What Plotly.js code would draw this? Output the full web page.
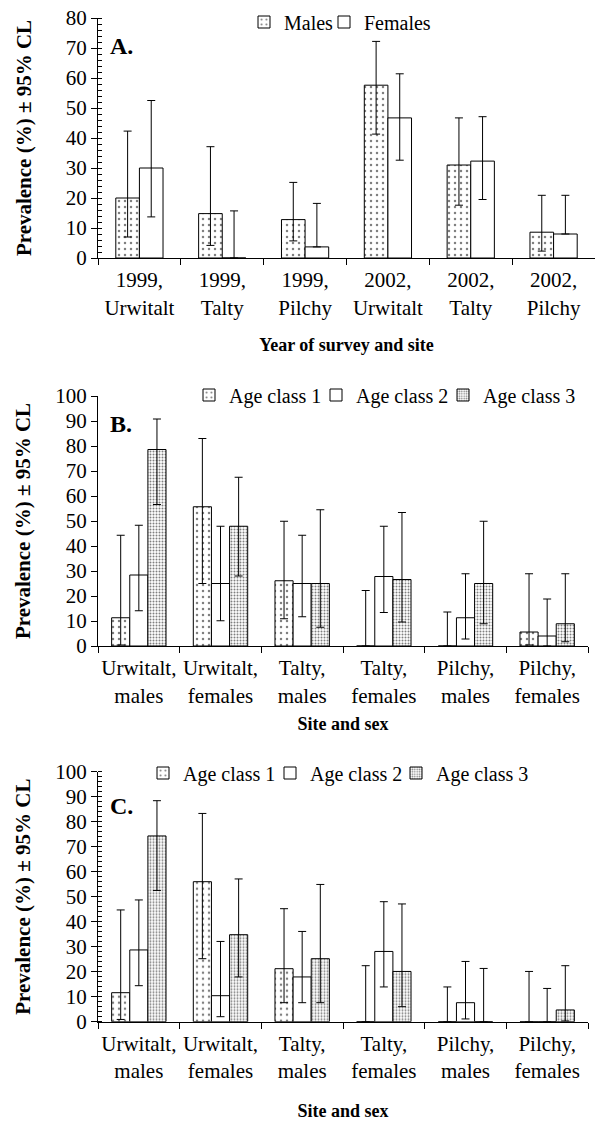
<!DOCTYPE html>
<html>
<head>
<meta charset="utf-8">
<script src="https://cdn.plot.ly/plotly-3.0.1.min.js"></script>
<style>html,body{margin:0;padding:0;background:#fff;}#chart{width:595px;height:1122px;}</style>
</head>
<body>
<div id="chart"></div>
<script>
// ---------- Panel A data ----------
const catsA = ["1999,<br>Urwitalt", "1999,<br>Talty", "1999,<br>Pilchy", "2002,<br>Urwitalt", "2002,<br>Talty", "2002,<br>Pilchy"];
const males     = [20.0, 14.8, 12.8, 57.6, 31.0, 8.6];
const malesHi   = [42.3, 37.1, 25.2, 72.2, 46.7, 20.9];
const malesLo   = [7.0, 4.2, 5.7, 41.3, 17.6, 2.3];
const females   = [30.0, 0, 3.7, 46.7, 32.3, 8.0];
const femalesHi = [52.5, 15.7, 18.2, 61.4, 47.1, 20.9];
const femalesLo = [13.7, 0, 3.7, 32.6, 19.5, 8.0];

// ---------- Panels B and C categories ----------
const catsBC = ["Urwitalt,<br>males", "Urwitalt,<br>females", "Talty,<br>males", "Talty,<br>females", "Pilchy,<br>males", "Pilchy,<br>females"];

// ---------- Panel B data ----------
const b1   = [11.3, 55.7, 26.1, 0, 0, 5.6];
const b1Hi = [44.3, 83.0, 49.9, 22.2, 13.6, 28.9];
const b1Lo = [0.4, 25.0, 10.9, 0, 0, 0.4];
const b2   = [28.4, 25.0, 25.0, 27.8, 11.3, 4.0];
const b2Hi = [48.3, 47.9, 44.3, 47.9, 28.9, 18.8];
const b2Lo = [14.1, 10.1, 11.7, 13.4, 2.8, 0];
const b3   = [78.6, 47.9, 25.0, 26.6, 25.0, 8.9];
const b3Hi = [90.8, 67.5, 54.5, 53.4, 49.9, 28.9];
const b3Lo = [56.6, 28.0, 7.5, 9.6, 8.9, 1.7];

// ---------- Panel C data ----------
const c1   = [11.6, 56.0, 21.2, 0, 0, 0];
const c1Hi = [44.7, 83.3, 45.2, 22.4, 13.9, 20.1];
const c1Lo = [0.9, 25.2, 7.6, 0, 0, 0];
const c2   = [28.7, 10.4, 17.9, 28.1, 7.6, 0];
const c2Hi = [48.7, 32.1, 36.1, 48.0, 24.1, 13.3];
const c2Lo = [14.4, 2.0, 7.6, 13.9, 1.1, 0];
const c3   = [74.3, 34.8, 25.2, 20.1, 0, 4.7];
const c3Hi = [88.4, 57.1, 54.9, 47.1, 21.3, 22.4];
const c3Lo = [52.5, 17.9, 7.6, 6.0, 0, 0.3];

const legendNames = ["Age class 1", "Age class 2", "Age class 3"];

// ---------- styles ----------
const FONT = "'Liberation Serif', 'Times New Roman', Times, serif";
const sparseDots = {shape: ".", size: 6, solidity: 0.14, fgcolor: "black", bgcolor: "white", fillmode: "overlay"};
const denseDots  = {shape: ".", size: 3, solidity: 0.35, fgcolor: "black", bgcolor: "white", fillmode: "overlay"};
const noPattern  = {shape: ""};

function errs(v, hi, lo) {
  return {
    type: "data", symmetric: false,
    array: hi.map((h, i) => Math.max(0, h - v[i])),
    arrayminus: lo.map((l, i) => Math.max(0, v[i] - l)),
    color: "black", thickness: 1, width: 4
  };
}
function barTrace(name, cats, v, hi, lo, pattern, xa, ya, legend, slot) {
  const t = {
    type: "bar", name: name, x: cats, y: v,
    xaxis: xa, yaxis: ya, legend: legend, showlegend: true,
    marker: {color: "white", line: {color: "black", width: 1}, pattern: pattern},
    error_y: errs(v, hi, lo),
    hoverinfo: "skip"
  };
  if (slot) { t.width = slot.w; t.offset = slot.off; }
  return t;
}
// bar width / offset (category units) for the three-bar panels
const BW = 0.222;
const slot1 = {w: BW, off: -1.5 * BW}, slot2 = {w: BW, off: -0.5 * BW}, slot3 = {w: BW, off: 0.5 * BW};

const data = [
  barTrace("Males", catsA, males, malesHi, malesLo, sparseDots, "x", "y", "legend"),
  barTrace("Females", catsA, females, femalesHi, femalesLo, noPattern, "x", "y", "legend2"),
  barTrace(legendNames[0], catsBC, b1, b1Hi, b1Lo, sparseDots, "x2", "y2", "legend3", slot1),
  barTrace(legendNames[1], catsBC, b2, b2Hi, b2Lo, noPattern, "x2", "y2", "legend4", slot2),
  barTrace(legendNames[2], catsBC, b3, b3Hi, b3Lo, denseDots, "x2", "y2", "legend5", slot3),
  barTrace(legendNames[0], catsBC, c1, c1Hi, c1Lo, sparseDots, "x3", "y3", "legend6", slot1),
  barTrace(legendNames[1], catsBC, c2, c2Hi, c2Lo, noPattern, "x3", "y3", "legend7", slot2),
  barTrace(legendNames[2], catsBC, c3, c3Hi, c3Lo, denseDots, "x3", "y3", "legend8", slot3)
];

const W = 595, H = 1122;
const px = v => v / W;
const py = v => 1 - v / H;

function xAxis(domain, anchor, title, standoff) {
  return {
    domain: domain, anchor: anchor, type: "category",
    showline: true, linecolor: "black", linewidth: 1,
    ticks: "outside", ticklen: 6, tickcolor: "black", tickwidth: 1,
    tickson: "boundaries", showgrid: false, zeroline: false, tickangle: 0,
    ticklabelstandoff: 3,
    tickfont: {family: FONT, size: 21, color: "black"},
    title: {text: title, font: {family: FONT, size: 18, color: "black", weight: "bold"}, standoff: standoff},
    automargin: false, fixedrange: true
  };
}
function yAxis(domain, anchor, range, dtick, minor, standoff) {
  const ax = {
    domain: domain, anchor: anchor, range: range,
    showline: true, linecolor: "black", linewidth: 1,
    ticks: "outside", ticklen: 6, tickcolor: "black", tickwidth: 1,
    dtick: dtick, tick0: 0, showgrid: false, zeroline: false,
    tickfont: {family: FONT, size: 21, color: "black"},
    title: {text: "Prevalence (%) ± 95% CL", font: {family: FONT, size: 21, color: "black", weight: "bold"}, standoff: standoff},
    automargin: false, fixedrange: true
  };
  if (minor) ax.minor = {ticks: "inside", dtick: 2, ticklen: 4, tickcolor: "black", tickwidth: 1, showgrid: false};
  return ax;
}

// one legend per entry, positioned by the left edge of its swatch
function legendCfg(symLeft, yc) {
  return {visible: true, orientation: "h", x: px(symLeft - 18), xanchor: "left", y: py(yc), yanchor: "middle",
          font: {family: FONT, size: 20, color: "black"}, bgcolor: "rgba(0,0,0,0)",
          itemwidth: 30, borderwidth: 0};
}

const layout = {
  width: W, height: H, autosize: false, showlegend: true,
  margin: {l: 0, r: 0, t: 0, b: 0},
  paper_bgcolor: "white", plot_bgcolor: "white",
  barmode: "group", bargap: 0.43, bargroupgap: 0,
  font: {family: FONT, color: "black"},
  xaxis:  xAxis([px(98), px(595)], "y", "Year of survey and site", 19),
  yaxis:  yAxis([py(258), py(18)], "x", [0, 80], 10, true, 28),
  xaxis2: xAxis([px(98), px(588)], "y2", "Site and sex", 10),
  yaxis2: yAxis([py(646), py(396)], "x2", [0, 100], 10, false, 18),
  xaxis3: xAxis([px(98), px(588)], "y3", "Site and sex", 22),
  yaxis3: yAxis([py(1021.7), py(771.7)], "x3", [0, 100], 10, true, 18),
  legend:  legendCfg(262, 22),
  legend2: legendCfg(342, 22),
  legend3: legendCfg(207, 395),
  legend4: legendCfg(334, 395),
  legend5: legendCfg(461, 395),
  legend6: legendCfg(161, 773),
  legend7: legendCfg(288, 773),
  legend8: legendCfg(414, 773),
  annotations: [
    {text: "<b>A.</b>", xref: "x domain", yref: "y domain", x: 0.02, y: 0.883, xanchor: "left", yanchor: "middle", showarrow: false, font: {family: FONT, size: 24, color: "black"}},
    {text: "<b>B.</b>", xref: "x2 domain", yref: "y2 domain", x: 0.02, y: 0.89, xanchor: "left", yanchor: "middle", showarrow: false, font: {family: FONT, size: 24, color: "black"}},
    {text: "<b>C.</b>", xref: "x3 domain", yref: "y3 domain", x: 0.02, y: 0.863, xanchor: "left", yanchor: "middle", showarrow: false, font: {family: FONT, size: 24, color: "black"}}
  ]
};

Plotly.newPlot("chart", data, layout, {displayModeBar: false, staticPlot: true});
</script>
</body>
</html>
